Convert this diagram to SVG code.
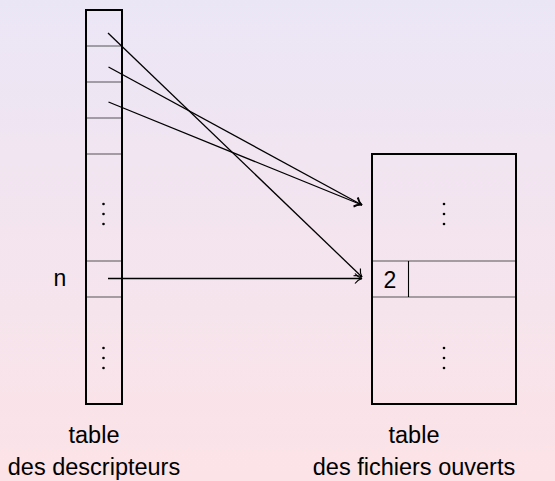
<svg xmlns="http://www.w3.org/2000/svg" width="555" height="481" viewBox="0 0 555 481">
<defs>
<linearGradient id="bg" x1="0" y1="0" x2="0" y2="1">
<stop offset="0" stop-color="#ebe6f6"/>
<stop offset="1" stop-color="#fce3e7"/>
</linearGradient>
<marker id="arr" markerWidth="14" markerHeight="14" refX="10" refY="7" orient="auto" markerUnits="userSpaceOnUse">
<path d="M3,2 Q6,6 10,7 Q6,8 3,12" fill="none" stroke="#000" stroke-width="1.2"/>
</marker>
<g id="vdots"><circle cx="0" cy="0" r="1.3"/><circle cx="0" cy="10" r="1.3"/><circle cx="0" cy="20" r="1.3"/></g>
</defs>
<style>
.box{fill:none;stroke:#000;stroke-width:2}
.sep{stroke:#555;stroke-width:1.2}
.con{stroke:#000;stroke-width:1.3;fill:none}
text{font-family:"Liberation Sans","DejaVu Sans",sans-serif;fill:#000}
.lbl{font-size:23.5px;text-anchor:middle}
</style>
<rect width="555" height="481" fill="url(#bg)"/>
<g id="descripteurs">
<rect class="box" x="86" y="10" width="36" height="394"/>
<line class="sep" x1="87" y1="46" x2="121" y2="46"/>
<line class="sep" x1="87" y1="82" x2="121" y2="82"/>
<line class="sep" x1="87" y1="118" x2="121" y2="118"/>
<line class="sep" x1="87" y1="154" x2="121" y2="154"/>
<line class="sep" x1="87" y1="261" x2="121" y2="261"/>
<line class="sep" x1="87" y1="297" x2="121" y2="297"/>
<use href="#vdots" x="103.5" y="204"/>
<use href="#vdots" x="103.5" y="348"/>
<text x="60" y="286" font-size="23" text-anchor="middle">n</text>
<text class="lbl" x="94" y="443">table</text>
<text class="lbl" x="94" y="475">des descripteurs</text>
</g>
<g id="fichiers">
<rect class="box" x="372" y="154" width="144" height="250"/>
<line class="sep" x1="373" y1="261" x2="515" y2="261"/>
<line class="sep" x1="373" y1="297" x2="515" y2="297"/>
<line x1="408.5" y1="261" x2="408.5" y2="297" stroke="#000" stroke-width="1.1"/>
<text x="390" y="288" font-size="23" text-anchor="middle">2</text>
<use href="#vdots" x="444" y="204"/>
<use href="#vdots" x="444" y="348"/>
<text class="lbl" x="414" y="443">table</text>
<text class="lbl" x="414" y="475">des fichiers ouverts</text>
</g>
<g id="connectors">
<line class="con" x1="108" y1="33" x2="362" y2="277" marker-end="url(#arr)"/>
<line class="con" x1="108.5" y1="67" x2="362" y2="205" marker-end="url(#arr)"/>
<line class="con" x1="108.5" y1="102" x2="362" y2="205" marker-end="url(#arr)"/>
<line class="con" x1="108" y1="278.5" x2="362" y2="278.5" marker-end="url(#arr)"/>
</g>
</svg>
